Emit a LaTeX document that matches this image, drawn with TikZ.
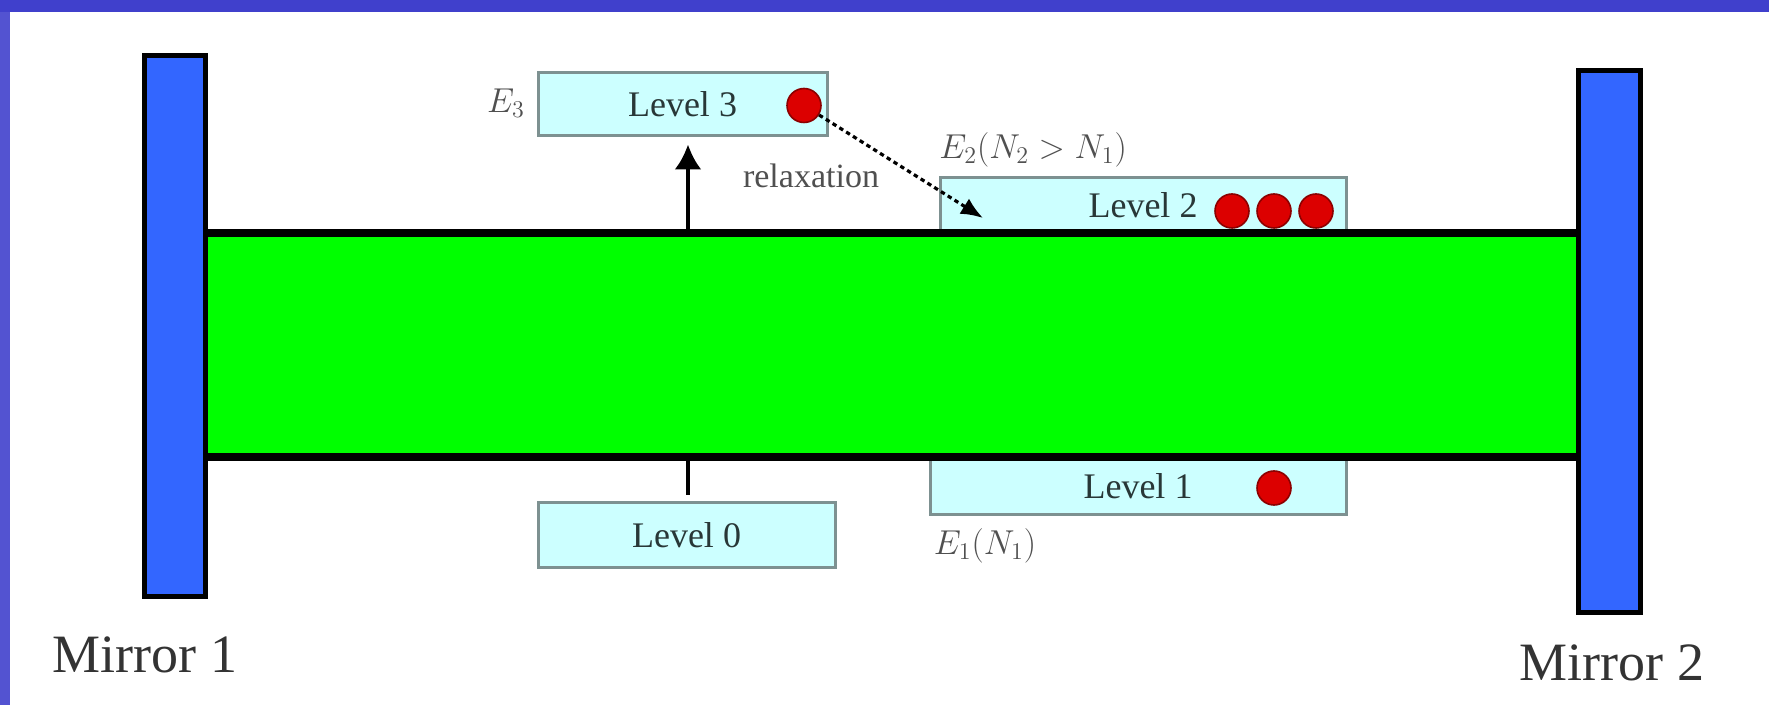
\documentclass[tikz,border=0pt]{standalone}
\usepackage{fontspec}
\setmainfont{Liberation Serif}
\usetikzlibrary{arrows.meta}
\definecolor{frameblue}{RGB}{64,64,204}
\definecolor{mirrorblue}{RGB}{51,102,255}
\definecolor{lasergreen}{RGB}{0,255,0}
\definecolor{levelfill}{RGB}{204,255,255}
\definecolor{levelborder}{RGB}{125,145,145}
\definecolor{dotred}{RGB}{220,0,0}
\definecolor{dotedge}{RGB}{140,0,0}
\definecolor{leveltext}{RGB}{40,55,55}
\definecolor{labeltext}{RGB}{80,80,80}
\begin{document}
\begin{tikzpicture}[x=0.5pt,y=-0.5pt,
  levelbox/.style={draw=levelborder, fill=levelfill, line width=1.5pt, inner sep=0pt,
    text=leveltext, font=\fontsize{18}{20}\selectfont},
  dotnode/.style={circle, fill=dotred, draw=dotedge, line width=0.8pt, minimum size=17pt, inner sep=0pt},
  mirrorbox/.style={draw=black, fill=mirrorblue, line width=2.5pt, inner sep=0pt},
  mirrorlabel/.style={text=black!80, font=\fontsize{27}{30}\selectfont, inner sep=0pt},
  elabel/.style={text=labeltext, font=\fontsize{17}{19}\selectfont, inner sep=0pt},
  edge/.style={line width=4pt, black}]
\useasboundingbox (0,0) rectangle (1769,705);
\fill[white] (0,0) rectangle (1769,705);
\fill[frameblue] (0,0) rectangle (1769,12);
\fill[frameblue!90!white] (0,12) rectangle (10,705);

% level boxes
\node[levelbox, minimum width=144.5pt, minimum height=31.5pt] (level3) at (682.5,104.5) {Level 3};
\node[levelbox, minimum width=203pt, minimum height=27pt] (level2) at (1143,205) {Level 2};
\node[levelbox, minimum width=208pt, minimum height=28.5pt] (level1) at (1138,486.5) {Level 1};
\node[levelbox, minimum width=148.5pt, minimum height=32.5pt] (level0) at (686.5,535.5) {Level 0};

% red dots
\node[dotnode] (dot3) at (804,105.5) {};
\node[dotnode] (dot2a) at (1232,211) {};
\node[dotnode] (dot2b) at (1274,211) {};
\node[dotnode] (dot2c) at (1316,211) {};
\node[dotnode] (dot1) at (1274,488) {};

% gain medium
\node[fill=lasergreen, minimum width=684pt, minimum height=116pt, inner sep=0pt] (medium) at (892,345) {};
\draw[edge] (208,233) -- (1576,233);
\draw[edge] (208,457.5) -- (1576,457.5);

% mirrors
\node[mirrorbox, minimum width=30.5pt, minimum height=270.5pt] (mirror1) at (175,326) {};
\node[mirrorbox, minimum width=31pt, minimum height=271pt] (mirror2) at (1609.5,341.5) {};
\node[mirrorlabel] (m1lab) at (145,655) {Mirror 1};
\node[mirrorlabel] (m2lab) at (1612,663) {Mirror 2};

% arrows
\coordinate (pumpbot) at (688,237);
\coordinate (pumptop) at (688,454);
\draw[line width=2pt, -{Latex[length=12.5pt,width=13.5pt]}, shorten >=3.5pt] (pumpbot) -- (level3.south -| pumpbot);
\draw[line width=2pt, shorten >=3pt] (pumptop) -- (level0.north -| pumptop);
\coordinate (tip2) at (983,218);
\draw[line width=1.6pt, dash pattern=on 2.2pt off 1.8pt, -{Latex[length=11pt,width=9pt]}] (dot3) -- (tip2);

% labels
\node[elabel] (e3) at (506,103) {$E_3$};
\node[elabel] (relax) at (811,176) {relaxation};
\node[elabel] (e2) at (1033,150) {$E_2(N_2>N_1)$};
\node[elabel] (e1) at (985,546) {$E_1(N_1)$};
\end{tikzpicture}
\end{document}
